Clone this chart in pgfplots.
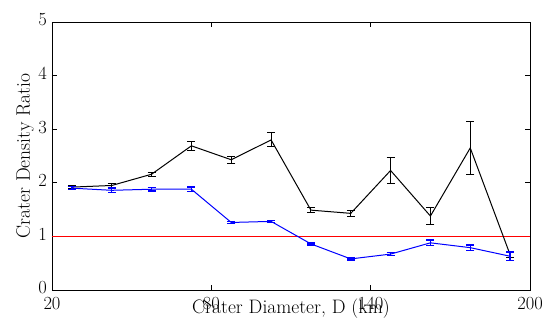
\documentclass[border=0pt]{standalone}
\usepackage{pgfplots}
\pgfplotsset{compat=1.18}
\usepackage{pgfplotstable}
\pgfplotstableread{
x y e
27.5 1.92 0.03
42.5 1.95 0.04
57.5 2.16 0.04
72.5 2.69 0.08
87.5 2.43 0.07
102.5 2.80 0.13
117.5 1.49 0.05
132.5 1.43 0.06
147.5 2.23 0.24
162.5 1.38 0.16
177.5 2.65 0.50
192.5 0.66 0.05
}\blackdata
\pgfplotstableread{
x y e
27.5 1.90 0.03
42.5 1.86 0.04
57.5 1.88 0.03
72.5 1.88 0.04
87.5 1.26 0.02
102.5 1.28 0.02
117.5 0.86 0.02
132.5 0.58 0.02
147.5 0.67 0.03
162.5 0.88 0.05
177.5 0.79 0.05
192.5 0.63 0.08
}\bluedata
\begin{document}
\begin{tikzpicture}
\path[use as bounding box] (-52pt,-32pt) rectangle (499pt,290pt);
\begin{axis}[
  at={(0pt,0pt)}, anchor=south west,
  scale only axis, width=478pt, height=268pt,
  xmin=20, xmax=200, ymin=0, ymax=5,
  xtick={20,80,140,200}, ytick={0,1,2,3,4,5},
  tick align=inside, major tick length=5pt,
  axis line style={line width=0.9pt},
  every tick/.style={black, line width=0.7pt},
  /pgf/number format/assume math mode=true,
  tick label style={font=\fontsize{18.5}{20}\selectfont},
  xticklabel style={inner sep=0pt, anchor=north, yshift=-7pt},
  yticklabel style={inner sep=0pt, anchor=east, xshift=-5pt, yshift=2pt},
  label style={font=\fontsize{19.5}{21}\selectfont},
  xlabel={Crater Diameter, D (km)},
  ylabel={Crater Density Ratio},
  xlabel style={at={(axis description cs:0.5,0)}, anchor=north, inner sep=0pt, yshift=-9pt},
  ylabel style={at={(axis description cs:0,0.5)}, anchor=north, inner sep=0pt, yshift=36pt},
]
\addplot[red, line width=1pt, forget plot] coordinates {(20,1) (200,1)};
\addplot[black, line width=1pt, mark=none,
  error bars/.cd, y dir=both, y explicit,
  error bar style={line width=1pt},
  error mark options={rotate=90, mark size=4pt, line width=1pt}]
  table[x=x, y=y, y error=e] {\blackdata};
\addplot[blue, line width=1pt, mark=none,
  error bars/.cd, y dir=both, y explicit,
  error bar style={line width=1.2pt},
  error mark options={rotate=90, mark size=4pt, line width=1.4pt}]
  table[x=x, y=y, y error=e] {\bluedata};
\end{axis}
\end{tikzpicture}
\end{document}
